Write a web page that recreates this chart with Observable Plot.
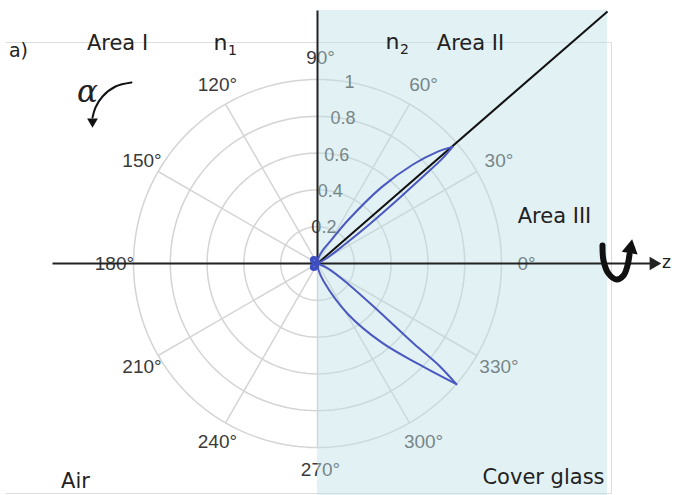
<!DOCTYPE html>
<html><head><meta charset="utf-8">
<script src="https://cdn.jsdelivr.net/npm/d3@7"></script>
<script src="https://cdn.jsdelivr.net/npm/@observablehq/plot@0.6"></script>
<style>body{margin:0;background:#fff} svg{display:block}</style>
</head><body><div id="chart"></div>
<script>
// ---- data ----
const ringRadii = [0.2, 0.4, 0.6, 0.8, 1.0];
const ringLabels = ["0.2", "0.4", "0.6", "0.8", "1"];
const spokeAngles = [0, 30, 60, 90, 120, 150, 180, 210, 240, 270, 300, 330];
const angleLabels = ["0°", "30°", "60°", "90°", "120°", "150°", "180°", "210°", "240°", "270°", "300°", "330°"];
const criticalAngle = 41;
// upper lobe: outer edge (center -> tip) and inner edge (tip -> center); angle in degrees, normalized intensity
const upperOuterAngle = [0, 80, 68, 60, 55, 50, 46, 43, 40.8];
const upperOuterR     = [0, 0.03, 0.08, 0.14, 0.28, 0.54, 0.75, 0.89, 0.97];
const upperInnerAngle = [40.8, 40, 39.5, 38.5, 37, 35, 30, 0];
const upperInnerR     = [0.97, 0.88, 0.74, 0.55, 0.35, 0.18, 0.06, 0];
// lower lobe
const lowerOuterAngle = [0, -80, -71, -59, -51, -45, -41];
const lowerOuterR     = [0, 0.04, 0.1, 0.32, 0.55, 0.77, 1.0];
const lowerInnerAngle = [-41, -40, -39.8, -38, -33.7, -25, 0];
const lowerInnerR     = [1.0, 0.86, 0.68, 0.43, 0.2, 0.06, 0];
// tiny lobes in air
const airLobeAngle = [90, 110, 135, 160, 180, 200, 225, 250, 270];
const airLobeR     = [0.0, 0.03, 0.04, 0.03, 0.0, 0.03, 0.04, 0.03, 0.0];

// ---- geometry ----
const R = 184, W = 676, H = 495, CX = 317, CY = 263;
const px = x => (x - CX) / R, py = y => (CY - y) / R;
const rad = d => d * Math.PI / 180;
const pol = (a, r) => ({x: r * Math.cos(rad(a)), y: r * Math.sin(rad(a))});

const rings = ringRadii.flatMap((r, i) => d3.range(0, 361, 2).map(a => ({...pol(a, r), ring: i})));
const spokes = spokeAngles.map(a => ({x1: 0, y1: 0, x2: pol(a, 1).x, y2: pol(a, 1).y}));
const aLabels = spokeAngles.map((a, i) => ({...pol(a, 1.12), t: angleLabels[i]}));
const rLabels = ringRadii.map((r, i) => ({...pol(80, r), t: ringLabels[i]}));
const edge = (angles, rs, id) => angles.map((a, i) => ({...pol(a, rs[i]), id}));
const lobes = [
  ...edge(upperOuterAngle, upperOuterR, "uo"),
  ...edge(upperInnerAngle, upperInnerR, "ui"),
  ...edge(lowerOuterAngle, lowerOuterR, "lo"),
  ...edge(lowerInnerAngle, lowerInnerR, "li")
];
const air = airLobeAngle.map((a, i) => pol(a, airLobeR[i]));

const glassRight = px(607), glassTop = py(10);
const diagEnd = {x: glassRight, y: glassRight * Math.tan(rad(criticalAngle))};

const alphaCurve = [[131,82],[115,86],[102,96],[95,107],[92,117]].map(([x,y]) => ({x: px(x), y: py(y)}));
const rotCurve = [[602,245],[603,260],[608,273],[616,279],[623,275],[627,265],[629,254]].map(([x,y]) => ({x: px(x), y: py(y)}));

const texts = [
  {x: px(18), y: py(50), t: "a)", s: 19},
  {x: px(117), y: py(43), t: "Area I", s: 21},
  {x: px(220), y: py(42), t: "n", s: 22},
  {x: px(392), y: py(41), t: "n", s: 22},
  {x: px(470), y: py(43), t: "Area II", s: 21},
  {x: px(554), y: py(216), t: "Area III", s: 21},
  {x: px(75), y: py(481), t: "Air", s: 21},
  {x: px(543), y: py(477), t: "Cover glass", s: 21},
  {x: px(666), y: py(262), t: "z", s: 17}
];
const subs = [
  {x: px(232), y: py(50), t: "1"},
  {x: px(404), y: py(49), t: "2"}
];

const plot = Plot.plot({
  width: W, height: H,
  margin: 0,
  x: {domain: [px(0), px(W)], range: [0, W], axis: null},
  y: {domain: [py(H), py(0)], range: [H, 0], axis: null},
  style: {background: "#fff"},
  marks: [
    // frame
    Plot.link([{x1: px(5), y1: py(42), x2: px(611), y2: py(42)},
               {x1: px(611), y1: py(42), x2: px(611), y2: py(493)},
               {x1: px(5), y1: py(493), x2: px(611), y2: py(493)}],
      {x1: "x1", y1: "y1", x2: "x2", y2: "y2", stroke: "#ddd", strokeWidth: 1}),
    // grid
    Plot.line(rings, {x: "x", y: "y", z: "ring", stroke: "#d4d4d4", strokeWidth: 1.5}),
    Plot.link(spokes, {x1: "x1", y1: "y1", x2: "x2", y2: "y2", stroke: "#d4d4d4", strokeWidth: 1.5}),
    Plot.text(aLabels, {x: "x", y: "y", text: "t", fill: "#3a3a3a", fontSize: 19, fontFamily: "Liberation Sans, Arial, sans-serif", dx: 3}),
    Plot.text(rLabels, {x: "x", y: "y", text: "t", fill: "#3a3a3a", fontSize: 18, fontFamily: "Liberation Sans, Arial, sans-serif"}),
    // cover glass region overlay
    Plot.rect([{x1: 0, x2: glassRight, y1: py(H), y2: glassTop}],
      {x1: "x1", x2: "x2", y1: "y1", y2: "y2", fill: "#bfe0e7", fillOpacity: 0.45}),
    // axes lines
    Plot.link([{x1: px(52), y1: 0, x2: px(652), y2: 0}], {x1: "x1", y1: "y1", x2: "x2", y2: "y2", stroke: "#222", strokeWidth: 2}),
    Plot.dot([{x: px(653), y: 0}], {x: "x", y: "y", symbol: "triangle", r: 5, fill: "#222", rotate: 90}),
    Plot.link([{x1: 0, y1: 0, x2: 0, y2: glassTop}], {x1: "x1", y1: "y1", x2: "x2", y2: "y2", stroke: "#222", strokeWidth: 2}),
    Plot.link([{x1: 0, y1: 0, x2: diagEnd.x, y2: diagEnd.y}], {x1: "x1", y1: "y1", x2: "x2", y2: "y2", stroke: "#111", strokeWidth: 2}),
    // lobes
    Plot.line(lobes, {x: "x", y: "y", z: "id", stroke: "#4a58c0", strokeWidth: 2, curve: "catmull-rom"}),
    Plot.line(air, {x: "x", y: "y", stroke: "#3d4fc0", strokeWidth: 4, curve: "catmull-rom"}),
    // annotations
    Plot.line(alphaCurve, {x: "x", y: "y", stroke: "#111", strokeWidth: 2, curve: "catmull-rom"}),
    Plot.dot([{x: px(92), y: py(121)}], {x: "x", y: "y", symbol: "triangle", r: 4, fill: "#111", rotate: 180}),
    Plot.text([{x: px(87), y: py(92), t: "\u03B1"}], {x: "x", y: "y", text: "t", fontSize: 31, fontStyle: "italic", fontFamily: "DejaVu Serif, serif", fill: "#222"}),
    Plot.line(rotCurve, {x: "x", y: "y", stroke: "#111", strokeWidth: 6, curve: "catmull-rom"}),
    Plot.dot([{x: px(630), y: py(248)}], {x: "x", y: "y", symbol: "triangle", r: 6, fill: "#111", rotate: 10}),
    Plot.text(texts, {x: "x", y: "y", text: "t", fontSize: "s", fill: "#222", fontFamily: "DejaVu Sans, Verdana, sans-serif"}),
    Plot.text(subs, {x: "x", y: "y", text: "t", fontSize: 14, fill: "#222", fontFamily: "DejaVu Sans, Verdana, sans-serif"})
  ]
});
document.getElementById("chart").appendChild(plot);
</script>
</body></html>
